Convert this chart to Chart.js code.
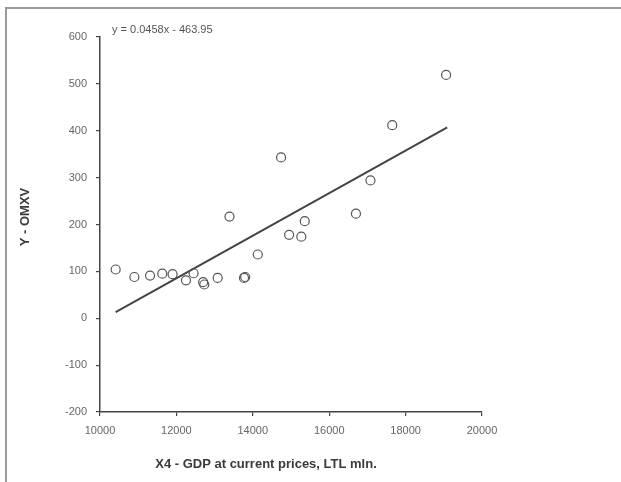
<!DOCTYPE html>
<html>
<head>
<meta charset="utf-8">
<script src="https://cdn.jsdelivr.net/npm/chart.js@4"></script>
<style>
  html, body { margin: 0; padding: 0; background: #fff; }
  #wrap { position: relative; width: 621px; height: 482px; overflow: hidden; }
  #frame { position: absolute; left: 5px; top: 7px; right: -10px; bottom: -10px; border-top: 2px solid #9a9a9a; border-left: 2px solid #9a9a9a; }
  canvas { position: absolute; left: 0; top: 0; }
</style>
</head>
<body>
<div id="wrap">
  <div id="frame"></div>
  <canvas id="chart" width="621" height="482"></canvas>
</div>
<script>
// GDP (X4) vs OMXV index
const gdpX  = [10410, 10900, 11310, 11630, 11900, 12250, 12450, 12700, 12730, 13080, 13390, 13770, 13800, 14130, 14740, 14950, 15270, 15360, 16700, 17080, 17650, 19060];
const omxvY = [104, 88, 91, 95, 94, 81, 96, 77, 72, 86, 217, 86, 88, 136, 343, 178, 174, 207, 223, 294, 412, 519];
// trend line end points as drawn
const trendX = [10410, 19090];
const trendY = [13, 407];
const xTicks = [10000, 12000, 14000, 16000, 18000, 20000];
const yTicks = [-200, -100, 0, 100, 200, 300, 400, 500, 600];
const eqText = 'y = 0.0458x - 463.95';
const xTitle = 'X4 - GDP at current prices, LTL mln.';
const yTitle = 'Y - OMXV';

const font = 'Arial, "Liberation Sans", sans-serif';

const labelsPlugin = {
  id: 'labels',
  afterDraw(chart){
    const ctx = chart.ctx;
    ctx.save();
    ctx.fillStyle = '#555';
    ctx.font = '11px ' + font;
    ctx.textBaseline = 'middle';
    ctx.textAlign = 'left';
    ctx.fillText(eqText, 112, 30);
    ctx.fillStyle = '#3a3a3a';
    ctx.font = 'bold 13px ' + font;
    ctx.textAlign = 'center';
    ctx.fillText(xTitle, 266, 464);
    ctx.translate(25, 217);
    ctx.rotate(-Math.PI/2);
    ctx.fillText(yTitle, 0, 0);
    ctx.restore();
  }
};

new Chart(document.getElementById('chart'), {
  type: 'scatter',
  data: {
    datasets: [
      {
        label: 'Y - OMXV',
        data: gdpX.map((x,i)=> ({x, y: omxvY[i]})),
        pointStyle: 'circle',
        pointRadius: 4.5,
        pointBorderWidth: 1.2,
        pointBorderColor: '#555',
        pointBackgroundColor: 'rgba(255,255,255,0)',
        showLine: false
      },
      {
        label: 'Trend',
        data: trendX.map((x,i)=> ({x, y: trendY[i]})),
        showLine: true,
        borderColor: '#444',
        borderWidth: 2,
        pointRadius: 0
      }
    ]
  },
  options: {
    responsive: false,
    animation: false,
    layout: { padding: { left: 0, top: 37, right: 139, bottom: 0 } },
    plugins: { legend: { display: false }, tooltip: { enabled: false } },
    scales: {
      x: {
        type: 'linear',
        min: 10000, max: 20000,
        afterBuildTicks: s => { s.ticks = xTicks.map(v => ({value: v})); },
        afterFit: s => { s.height = 70; },
        grid: { drawOnChartArea: false, tickLength: 4, color: '#444', lineWidth: 1.2 },
        border: { color: '#444', width: 1.5 },
        ticks: { color: '#666', font: { size: 11, family: font }, padding: 8, maxRotation: 0, autoSkip: false, callback: v => String(v) }
      },
      y: {
        min: -200, max: 600,
        afterBuildTicks: s => { s.ticks = yTicks.map(v => ({value: v})); },
        afterFit: s => { s.width = 100; },
        grid: { drawOnChartArea: false, tickLength: 4, color: '#444', lineWidth: 1.2 },
        border: { color: '#444', width: 1.5 },
        ticks: { color: '#666', font: { size: 11, family: font }, padding: 9, callback: v => String(v) }
      }
    }
  },
  plugins: [labelsPlugin]
});
</script>
</body>
</html>
